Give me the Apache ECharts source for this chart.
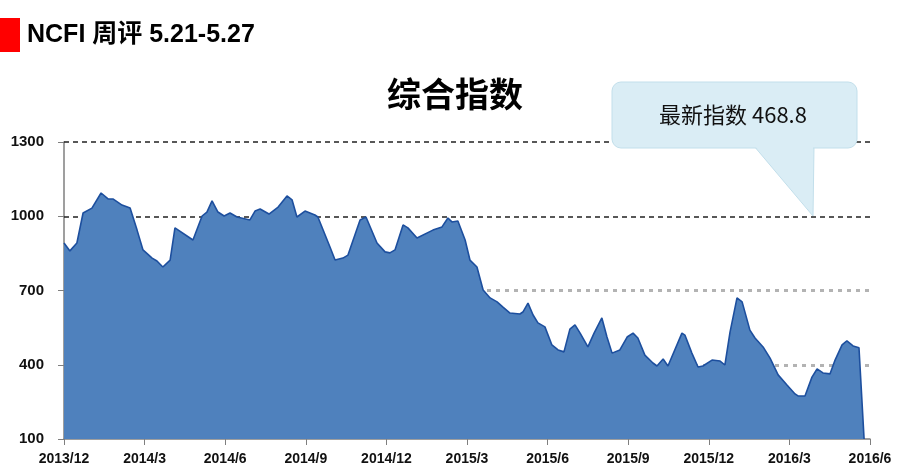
<!DOCTYPE html>
<html>
<head>
<meta charset="utf-8">
<script src="https://cdn.jsdelivr.net/npm/echarts@6/dist/echarts.min.js"></script>
<style>
html,body{margin:0;padding:0;background:#fff;}
#chart{width:900px;height:475px;}
</style>
</head>
<body>
<div id="chart"></div>
<script>
// Months elapsed since 2013/12 for each point
var months = [0,0.22,0.48,0.71,1.04,1.38,1.64,1.82,2.16,2.46,2.72,2.94,3.28,3.46,3.68,3.95,4.13,4.80,5.14,5.32,5.51,5.73,5.96,6.18,6.44,6.92,7.11,7.30,7.63,7.97,8.30,8.49,8.67,8.97,9.34,9.45,9.90,10.09,10.38,10.57,11.02,11.24,11.65,11.95,12.13,12.32,12.62,12.80,13.14,13.73,14.07,14.29,14.44,14.66,14.93,15.11,15.37,15.60,15.86,16.12,16.34,16.60,16.97,17.08,17.27,17.46,17.64,17.90,18.16,18.39,18.61,18.83,19.02,19.21,19.50,19.73,20.02,20.21,20.40,20.69,20.96,21.18,21.36,21.62,21.92,22.07,22.30,22.48,23.00,23.11,23.37,23.60,23.78,24.12,24.42,24.60,24.79,25.05,25.24,25.53,25.72,26.02,26.28,26.58,26.91,27.21,27.32,27.58,27.84,28.03,28.25,28.51,28.70,28.96,29.14,29.37,29.59,29.78];
var indexValues = [892,860,892,1013,1033,1094,1070,1070,1045,1033,944,864,831,819,795,823,953,904,1001,1017,1062,1017,1001,1013,997,985,1021,1029,1009,1037,1082,1066,997,1021,1005,997,876,823,831,843,985,997,892,856,852,864,965,953,912,944,957,993,977,981,904,823,795,702,670,654,633,609,605,613,649,601,569,553,480,460,452,544,561,528,472,528,589,512,447,460,512,528,508,439,407,395,423,395,528,520,447,391,395,419,415,399,532,670,654,540,508,472,427,359,318,282,274,274,350,383,367,363,419,480,496,476,468.8,100];
var xTickLabels = ['2013/12','2014/3','2014/6','2014/9','2014/12','2015/3','2015/6','2015/9','2015/12','2016/3','2016/6'];
var yTicks = [100,400,700,1000,1300];
var headerText = 'NCFI 周评 5.21-5.27';
var titleText = '综合指数';
var latestLabel = '最新指数';
var latestValue = 468.8;

var seriesData = months.map(function(m,i){ return [m, indexValues[i]]; });

var chart = echarts.init(document.getElementById('chart'), null, {renderer:'canvas'});
var option = {
  animation: false,
  backgroundColor: '#ffffff',
  grid: { left: 64, right: 30, top: 142, bottom: 36 },
  xAxis: {
    type: 'value', min: 0, max: 30, interval: 3,
    axisLine: { show: true, lineStyle: { color: '#7f7f7f', width: 1.5 } },
    axisTick: { show: true, length: 6, lineStyle: { color: '#7f7f7f' } },
    splitLine: { show: false },
    axisLabel: {
      margin: 13,
      fontFamily: 'Liberation Sans', fontSize: 14, fontWeight: 'bold', color: '#111',
      formatter: function(v){ return xTickLabels[Math.round(v/3)]; }
    }
  },
  yAxis: {
    type: 'value', min: yTicks[0], max: yTicks[yTicks.length-1], interval: 300,
    axisLine: { show: true, lineStyle: { color: '#7f7f7f', width: 1.5 } },
    axisTick: { show: true, length: 6, lineStyle: { color: '#7f7f7f' } },
    splitLine: { show: false },
    axisLabel: {
      margin: 20, fontFamily: 'Liberation Sans', fontSize: 15, fontWeight: 'bold', color: '#111',
      formatter: function(v){ return String(v); }
    }
  },
  series: [{
    type: 'line',
    data: seriesData,
    z: 3,
    showSymbol: false,
    symbol: 'none',
    lineStyle: { color: '#1d4f9e', width: 1.6 },
    areaStyle: { color: '#4f81bd', opacity: 1 },
    markLine: {
      z: 1,
      silent: true,
      symbol: ['none','none'],
      label: { show: false },
      data: [
        { yAxis: yTicks[4], lineStyle: { color: '#222', type: [5,4], width: 1.5 } },
        { yAxis: yTicks[3], lineStyle: { color: '#222', type: [5,4], width: 1.5 } },
        { yAxis: yTicks[2], lineStyle: { color: '#b3b3b3', type: [4,5], width: 3 } },
        { yAxis: yTicks[1], lineStyle: { color: '#b3b3b3', type: [4,5], width: 3 } }
      ]
    }
  }],
  graphic: [
    { type: 'rect', shape: { x: 0, y: 18, width: 20, height: 34 }, style: { fill: '#ff0000' } },
    { type: 'text', left: 27, top: 23, style: { text: headerText, fontFamily: 'Liberation Sans, Noto Sans CJK SC', fontSize: 25, fontWeight: 'bold', fill: '#000' } },
    { type: 'text', x: 455, y: 94, style: { text: titleText, fontFamily: 'Noto Sans CJK SC', fontSize: 34, fontWeight: 'bold', fill: '#000', align: 'center', verticalAlign: 'middle' } },
    { type: 'polygon', z: 10, shape: { points: [[754,146],[814,146],[813,216]] }, style: { fill: '#daedf5', stroke: '#c2dfeb', lineWidth: 1 } },
    { type: 'rect', z: 10, shape: { x: 612, y: 82, width: 245, height: 66, r: 9 }, style: { fill: '#daedf5', stroke: '#c2dfeb', lineWidth: 1 } },
    { type: 'polygon', z: 11, shape: { points: [[755,146],[813,146],[812,214]] }, style: { fill: '#daedf5' } },
    { type: 'text', z: 12, x: 733, y: 115, style: { text: latestLabel + ' ' + latestValue.toFixed(1), fontFamily: 'Noto Sans CJK SC', fontSize: 22, fill: '#111', align: 'center', verticalAlign: 'middle' } }
  ]
};
chart.setOption(option);
</script>
</body>
</html>
